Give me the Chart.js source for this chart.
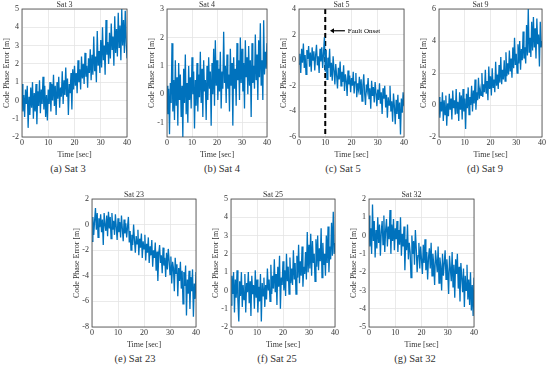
<!DOCTYPE html>
<html>
<head>
<meta charset="utf-8">
<script src="https://cdn.jsdelivr.net/npm/chart.js@4.4.0/dist/chart.umd.min.js"></script>
<style>
  body { margin: 0; width: 550px; height: 369px; background: #fff; position: relative; overflow: hidden; font-family: 'Liberation Serif', 'Times New Roman', 'DejaVu Serif', serif; }
  canvas { position: absolute; }
  .cap { position: absolute; font-size: 10.5px; font-weight: normal; color: #333; transform: translateX(-50%); white-space: nowrap; }
</style>
</head>
<body>
<script>
// time axis: 0..40 s, one sample every 1/3 s
const xTicks = [0, 10, 20, 30, 40];

const sat3Values = [
  0.9, -0.6, 0.3, -0.9, 0.6, -0.2, 0.8, -1.5, 0.2, -0.8,
  0.7, -0.4, 1.0, -1.0, 0.4, -0.6, 0.9, -1.3, 0.5, -0.3,
  1.1, -0.7, 0.6, -0.2, 1.3, -0.5, 0.8, -0.9, 0.3, -1.1,
  0.6, -0.2, 1.0, -0.6, 0.9, 0.0, 1.4, -0.3, 0.8, -0.8,
  1.0, 0.1, 1.3, -0.4, 0.7, 0.2, 1.6, -0.2, 1.1, 0.3,
  1.8, 0.2, 1.2, -0.8, 0.9, 0.4, 1.5, -0.5, 1.7, 0.6,
  1.9, 0.8, 1.5, 0.4, 2.2, 1.0, 1.7, 0.6, 2.4, 1.2,
  2.0, 0.9, 2.6, 1.3, 1.9, 0.7, 2.3, 1.5, 2.8, 1.1,
  2.5, 1.4, 3.5, 1.6, 2.4, 1.0, 3.8, 1.9, 2.7, 1.5,
  3.3, 1.8, 4.0, 2.2, 3.0, 1.4, 4.4, 2.5, 3.2, 2.0,
  3.7, 2.3, 4.2, 2.8, 3.5, 1.9, 4.6, 2.6, 3.9, 2.4,
  4.8, 2.9, 4.1, 2.2, 5.0, 3.0, 4.4, 2.6, 4.9, 3.2, 2.3
];
const sat4Values = [
  0.3, -0.7, 0.2, -1.4, 0.4, -0.3, 1.8, -0.6, 0.5, -0.9,
  1.2, -0.4, 0.6, -1.1, 1.1, -0.2, 0.7, -0.8, 0.3, -1.5,
  0.9, -0.3, 1.4, -0.7, 0.4, -1.0, 1.0, -0.2, 0.6, -0.5,
  1.3, 0.0, 0.8, -1.2, 0.5, -0.4, 1.1, -0.6, 0.7, -0.1,
  1.5, -0.3, 0.9, -0.8, 1.2, 0.1, 0.5, -0.9, 1.0, -0.2,
  1.3, 0.2, 0.8, -1.1, 1.1, 0.0, 1.6, -0.4, 1.9, 0.3,
  1.2, -0.2, 0.9, 0.1, 1.5, -0.5, 0.8, 0.2, 2.2, 0.4,
  1.0, -0.3, 1.4, 0.2, 0.7, -0.6, 1.6, 0.3, 1.1, -1.1,
  1.3, 0.2, 0.9, -0.4, 1.8, 0.5, 1.2, -0.2, 2.0, 0.4,
  1.6, 0.1, 1.1, -0.5, 1.9, 0.6, 1.3, 0.0, 1.7, 0.3,
  1.2, -0.8, 1.8, 0.4, 1.0, 0.2, 2.1, 0.5, 1.4, -0.2,
  1.9, 0.6, 2.5, 0.3, 1.2, -0.2, 2.6, 0.7, 1.5, 0.9, 1.8
];
const sat5Values = [
  -0.3, 0.5, -1.0, 0.9, -0.2, 1.3, -0.6, 0.4, -1.1, 0.8,
  0.1, 1.1, -0.5, 0.6, -0.9, 1.0, 0.0, 0.7, -0.8, 0.4,
  1.2, -0.4, 0.3, -1.0, 0.9, -0.1, 1.0, -0.6, 0.5, 1.8,
  -0.9, 0.8, -1.5, 0.2, -0.6, 0.9, -1.3, -0.2, -1.6, 0.3,
  -0.8, -1.9, -0.3, -1.2, -2.2, -0.6, -1.5, -0.1, -2.0, -0.9,
  -1.7, -0.4, -2.4, -1.1, -1.6, -2.8, -0.8, -1.9, -1.2, -2.5,
  -1.4, -2.0, -0.9, -2.6, -1.7, -1.0, -2.9, -1.8, -2.3, -1.3,
  -2.7, -1.5, -3.2, -2.0, -1.1, -2.6, -3.5, -1.9, -2.4, -1.4,
  -3.0, -2.2, -3.8, -1.6, -2.8, -2.1, -3.3, -1.7, -2.6, -3.6,
  -2.3, -3.1, -1.8, -3.4, -2.5, -4.2, -2.2, -3.0, -2.0, -3.7,
  -2.7, -4.5, -2.9, -3.5, -2.0, -4.0, -3.2, -4.8, -2.6, -3.6,
  -5.0, -3.1, -4.2, -2.7, -4.6, -3.3, -5.8, -3.0, -4.1, -2.5, -3.6
];
const sat9Values = [
  0.5, -0.8, 0.2, -0.4, 0.8, -1.0, 0.3, -0.6, 0.6, -1.3,
  0.1, -0.7, 0.7, -0.3, 0.4, -0.9, 0.9, -0.2, 0.3, -0.6,
  1.0, -0.5, 0.2, -1.0, 0.8, -0.3, 0.6, -0.9, 1.0, -0.4,
  0.4, -1.5, 0.7, -0.2, 1.1, -0.6, 0.5, 0.0, 1.2, -0.4,
  0.9, 0.1, 1.6, -0.3, 0.8, 0.3, 1.7, 0.4, 1.0, 0.6,
  2.0, 0.5, 1.3, 0.8, 2.2, 0.7, 1.5, 0.3, 2.4, 1.0,
  1.8, 0.6, 2.3, 1.1, 1.6, 0.8, 2.7, 1.2, 1.9, 1.0,
  2.5, 1.4, 3.0, 1.3, 2.2, 1.6, 2.8, 1.5, 3.3, 1.8,
  2.6, 1.9, 3.4, 2.1, 2.9, 1.7, 3.6, 2.3, 4.2, 2.5,
  3.2, 2.0, 3.8, 2.6, 4.0, 2.2, 3.5, 2.8, 4.6, 2.9,
  3.6, 2.6, 5.0, 3.1, 6.0, 3.3, 4.2, 3.0, 5.2, 3.4,
  5.5, 3.6, 4.8, 2.9, 5.4, 3.8, 4.4, 2.4, 5.2, 3.6, 4.0
];
const sat23Values = [
  -1.3, 0.6, -0.8, 0.3, 1.3, -0.4, 0.9, -1.0, 0.5, -0.2,
  0.8, -0.6, 0.4, -1.6, 0.9, 0.0, -0.5, 0.7, -0.9, 1.0,
  -0.3, 0.6, -1.1, 0.9, -0.4, 0.3, -0.8, 0.8, -0.2, -1.2,
  0.5, -0.6, 0.2, -1.0, 0.7, -0.3, -1.3, 0.4, -0.7, 0.1,
  -1.0, -0.2, 0.6, -1.4, -0.5, -2.0, -0.8, -1.6, 0.0, -1.2,
  -2.2, -0.9, -1.5, -0.4, -2.4, -1.1, -1.8, -0.7, -2.6, -1.3,
  -1.9, -0.8, -2.8, -1.5, -2.2, -1.0, -3.0, -1.7, -2.4, -1.2,
  -3.3, -2.0, -2.6, -1.4, -3.6, -2.1, -4.4, -2.3, -1.6, -3.0,
  -2.4, -3.8, -1.8, -3.2, -2.6, -4.1, -2.2, -3.5, -1.9, -2.8,
  -3.9, -2.5, -4.6, -2.9, -3.4, -5.2, -2.6, -3.8, -3.1, -5.6,
  -3.4, -4.4, -2.9, -5.0, -3.6, -6.2, -3.7, -4.8, -3.2, -7.1,
  -4.3, -5.4, -3.6, -6.6, -4.1, -5.2, -3.5, -7.2, -4.6, -5.8, -3.7
];
const sat25Values = [
  -0.8, 0.8, -0.2, 1.0, -1.2, 0.6, -0.4, 1.1, -0.6, -1.7,
  0.5, -0.3, 1.0, -0.9, 0.3, -0.5, 0.9, -1.2, 0.4, -0.1,
  1.0, -0.7, 0.5, -1.4, 0.8, -0.2, 0.3, -1.0, 1.1, -0.4,
  0.6, -1.2, 0.2, -0.6, 0.9, -1.7, 0.4, -0.3, 0.7, -0.9,
  0.3, -0.5, 1.2, 0.0, 0.6, -0.6, 1.4, -0.2, 0.8, 0.1,
  1.7, -0.1, 0.9, -0.8, 1.3, 0.2, 1.9, -1.0, 0.7, 0.3,
  1.6, 0.0, 1.1, -0.3, 2.0, 0.5, 1.3, -0.2, 1.8, 0.4,
  1.2, 0.3, 2.2, 0.6, 1.5, -0.2, 1.9, 0.7, 2.5, 0.4,
  1.6, 0.8, 2.4, 0.2, 1.3, 0.9, 2.1, 0.6, 3.2, 1.0,
  2.5, 1.2, 3.1, 0.8, 2.7, 1.5, 2.0, 0.5, 2.8, 1.3,
  3.0, 1.1, 2.3, 1.6, 3.4, 0.7, 2.6, 1.4, 2.0, 0.8,
  3.0, 1.5, 3.5, 1.0, 2.4, 1.7, 3.7, 1.9, 4.3, 2.0, 2.6
];
const sat32Values = [
  1.1, -0.6, 0.4, -1.0, 1.7, -0.3, 0.8, -1.2, 0.3, -0.7,
  1.0, -0.4, 0.6, -1.1, 0.2, 0.8, -0.5, 1.1, -0.9, 0.3,
  0.9, -0.6, 0.5, -0.2, 1.4, -1.0, 0.6, -0.3, 0.9, -0.8,
  0.4, -0.2, 0.8, -0.9, 0.3, -0.5, 1.0, -1.1, 0.1, -0.6,
  0.5, -1.9, -0.2, -0.8, 0.6, -1.3, -0.4, -0.9, -2.3, 0.0,
  -1.0, -0.3, -1.6, 0.3, -0.7, -2.0, -1.1, -0.4, -1.8, -0.6,
  -1.3, -2.1, -0.5, -1.5, -0.2, -1.9, -0.9, -2.4, -1.2, -0.7,
  -1.8, -0.4, -2.2, -1.0, -1.6, -2.7, -0.8, -1.4, -2.0, -0.6,
  -2.6, -1.2, -1.7, -3.0, -1.0, -2.2, -1.5, -0.8, -2.4, -1.3,
  -2.0, -3.2, -1.1, -1.8, -2.5, -0.9, -2.8, -1.6, -3.4, -1.3,
  -2.1, -1.0, -2.9, -1.7, -3.6, -1.5, -2.3, -3.1, -1.8, -3.9,
  -2.2, -3.0, -1.6, -3.5, -2.4, -3.8, -2.0, -4.1, -2.7, -4.4, -2.3
];

const sat3Ticks = [-2, -1, 0, 1, 2, 3, 4, 5];
const sat4Ticks = [-1, 0, 1, 2, 3];
const sat5Ticks = [-6, -4, -2, 0, 2, 4];
const sat9Ticks = [-2, 0, 2, 4, 6];
const sat23Ticks = [-8, -6, -4, -2, 0, 2];
const sat25Ticks = [-2, -1, 0, 1, 2, 3, 4, 5];
const sat32Ticks = [-5, -4, -3, -2, -1, 0, 1, 2];

// fault onset marker for Sat 5
const faultTime = 10;
const faultLabel = "Fault Onset";

const panels = [
  { title: "Sat 3",  values: sat3Values,  ticks: sat3Ticks,  yMin: -2,   yMax: 5, left: 22,  top: 9,   w: 105, caption: "(a)  Sat 3",  capX: 68 },
  { title: "Sat 4",  values: sat4Values,  ticks: sat4Ticks,  yMin: -1.5, yMax: 3, left: 167, top: 9,   w: 100, caption: "(b)  Sat 4",  capX: 222 },
  { title: "Sat 5",  values: sat5Values,  ticks: sat5Ticks,  yMin: -6,   yMax: 4, left: 299, top: 9,   w: 105, caption: "(c)  Sat 5",  capX: 343, fault: true },
  { title: "Sat 9",  values: sat9Values,  ticks: sat9Ticks,  yMin: -2,   yMax: 6, left: 439, top: 9,   w: 103, caption: "(d)  Sat 9",  capX: 485 },
  { title: "Sat 23", values: sat23Values, ticks: sat23Ticks, yMin: -8,   yMax: 2, left: 92,  top: 199, w: 104, caption: "(e)  Sat 23", capX: 135 },
  { title: "Sat 25", values: sat25Values, ticks: sat25Ticks, yMin: -2,   yMax: 5, left: 231, top: 199, w: 104, caption: "(f)  Sat 25", capX: 277 },
  { title: "Sat 32", values: sat32Values, ticks: sat32Ticks, yMin: -5,   yMax: 2, left: 369, top: 199, w: 105, caption: "(g)  Sat 32", capX: 415 }
];

const plotH = 128;
const yAxisW = 20, xAxisH = 24, titleH = 8, padR = 8;
const lineBlue = "#0072BD";
const textGray = "#333";
const serif = "'Liberation Serif', 'Times New Roman', 'DejaVu Serif', serif";
const tickFont = { family: serif, size: 8 };

const boxPlugin = {
  id: "box",
  afterDatasetsDraw(chart, args, opts) {
    const { ctx, chartArea: a, scales } = chart;
    ctx.save();
    ctx.strokeStyle = "#444";
    ctx.lineWidth = 0.8;
    ctx.strokeRect(a.left, a.top, a.right - a.left, a.bottom - a.top);
    if (opts.fault) {
      const y = scales.y.getPixelForValue(2.3);
      const x0 = scales.x.getPixelForValue(17.5);
      const x1 = scales.x.getPixelForValue(11.8);
      ctx.strokeStyle = "#000";
      ctx.fillStyle = "#000";
      ctx.lineWidth = 1.2;
      ctx.beginPath();
      ctx.moveTo(x0, y);
      ctx.lineTo(x1 + 3, y);
      ctx.stroke();
      ctx.beginPath();
      ctx.moveTo(x1, y);
      ctx.lineTo(x1 + 4, y - 2.5);
      ctx.lineTo(x1 + 4, y + 2.5);
      ctx.closePath();
      ctx.fill();
      ctx.font = "7px " + serif;
      ctx.textBaseline = "middle";
      ctx.fillText(faultLabel, scales.x.getPixelForValue(18.6), y);
    }
    ctx.restore();
  }
};

panels.forEach((p) => {
  const canvas = document.createElement("canvas");
  const W = p.w + yAxisW + padR;
  const H = plotH + titleH + xAxisH;
  canvas.width = W;
  canvas.height = H;
  canvas.style.left = (p.left - yAxisW) + "px";
  canvas.style.top = (p.top - titleH) + "px";
  canvas.style.width = W + "px";
  canvas.style.height = H + "px";
  document.body.appendChild(canvas);

  const cap = document.createElement("div");
  cap.className = "cap";
  cap.textContent = p.caption;
  cap.style.left = p.capX + "px";
  cap.style.top = (p.top + plotH + 26) + "px";
  document.body.appendChild(cap);

  const step = 40 / (p.values.length - 1);
  const datasets = [{
    data: p.values.map((v, i) => ({ x: i * step, y: v })),
    borderColor: lineBlue,
    borderWidth: 1.3,
    pointRadius: 0,
    tension: 0
  }];
  if (p.fault) {
    datasets.push({
      data: [{ x: faultTime, y: p.yMax }, { x: faultTime, y: p.yMin }],
      borderColor: "#000",
      borderWidth: 2,
      borderDash: [5, 3],
      pointRadius: 0
    });
  }

  new Chart(canvas.getContext("2d"), {
    type: "line",
    data: { datasets },
    options: {
      responsive: false,
      animation: false,
      layout: { padding: { left: 0, top: 0, right: padR, bottom: 0 } },
      plugins: {
        legend: { display: false },
        tooltip: { enabled: false },
        title: {
          display: true,
          text: p.title,
          color: textGray,
          font: { family: serif, size: 8, weight: "normal", lineHeight: 1 },
          padding: 0
        },
        box: { fault: !!p.fault }
      },
      scales: {
        x: {
          type: "linear",
          min: 0,
          max: 40,
          afterBuildTicks: (s) => { s.ticks = xTicks.map((v) => ({ value: v })); },
          afterFit: (s) => { s.height = xAxisH; },
          ticks: { color: textGray, font: tickFont, padding: 1, maxRotation: 0 },
          grid: { color: "#e4e4e4", lineWidth: 0.8, drawTicks: false },
          border: { display: false },
          title: { display: true, text: "Time [sec]", color: textGray, font: { family: serif, size: 8 }, padding: { top: 0, bottom: 1 } }
        },
        y: {
          min: p.yMin,
          max: p.yMax,
          afterBuildTicks: (s) => { s.ticks = p.ticks.map((v) => ({ value: v })); },
          afterFit: (s) => { s.width = yAxisW; },
          ticks: { color: textGray, font: tickFont, padding: 3 },
          grid: { color: "#e4e4e4", lineWidth: 0.8, drawTicks: false },
          border: { display: false },
          title: { display: true, text: "Code Phase Error [m]", color: textGray, font: { family: serif, size: 8 }, padding: 0 }
        }
      }
    },
    plugins: [boxPlugin]
  });
});
</script>
</body>
</html>
